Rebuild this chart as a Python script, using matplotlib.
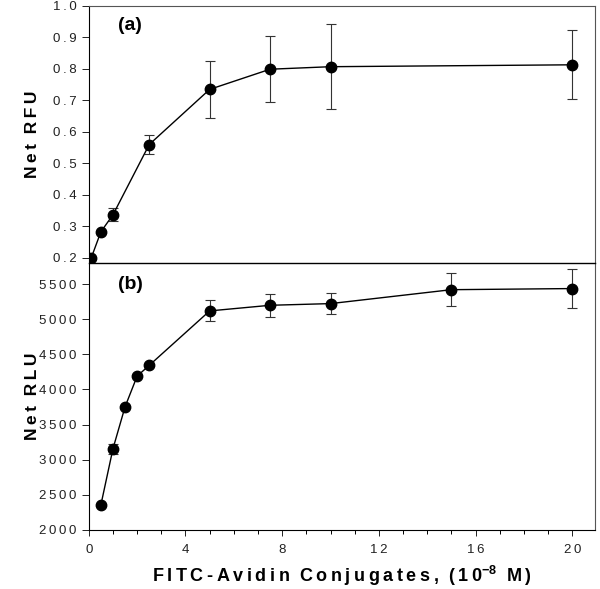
import matplotlib.pyplot as plt
from matplotlib.ticker import FuncFormatter, MultipleLocator

plt.rcParams['font.family'] = ['Liberation Sans', 'DejaVu Sans']
plt.rcParams['mathtext.fontset'] = 'custom'
plt.rcParams['mathtext.bf'] = 'Liberation Sans:bold'
plt.rcParams['mathtext.rm'] = 'Liberation Sans'

# (a) fluorescence
conc_a = [0, 0.1, 0.5, 1.0, 2.5, 5.0, 7.5, 10.0, 20.0]
rfu = [0.195, 0.2, 0.283, 0.337, 0.56, 0.735, 0.799, 0.807, 0.813]
rfu_err = [0, 0, 0, 0.02, 0.029, 0.091, 0.105, 0.134, 0.109]

# (b) luminescence
conc_b = [0.5, 1.0, 1.5, 2.0, 2.5, 5.0, 7.5, 10.0, 15.0, 20.0]
rlu = [2357, 3157, 3753, 4190, 4343, 5118, 5198, 5222, 5420, 5436]
rlu_err = [0, 70, 0, 0, 0, 150, 160, 150, 232, 280]

SP = '\u2009'


def spaced(s):
    return SP.join(s)


fig = plt.figure(figsize=(6, 5.89), dpi=100)
ax2 = fig.add_axes([0.148, 0.1002, 0.844, 0.4533])
ax1 = fig.add_axes([0.148, 0.5535, 0.844, 0.4365])
ax2.patch.set_visible(False)

for ax, x, y, e in [(ax1, conc_a, rfu, rfu_err), (ax2, conc_b, rlu, rlu_err)]:
    ax.errorbar(x, y, yerr=e, fmt='none', ecolor='#333333', elinewidth=0.8,
                capsize=3.5, capthick=0.8, zorder=2)
    ax.plot(x, y, '-', color='black', lw=1.0, zorder=3)
    ax.plot(x, y, 'o', color='black', ms=7.5, zorder=4)
    ax.set_xlim(0, 20.95)
    for s in ax.spines.values():
        s.set_linewidth(0.8)
    for s in ('top', 'right'):
        ax.spines[s].set_color('#555555')
    ax.tick_params(direction='out', labelsize=9.5, width=0.7, length=5,
                   pad=4, colors='#222222')

ax1.set_ylim(0.184, 1.0)
ax1.set_yticks([0.2, 0.3, 0.4, 0.5, 0.6, 0.7, 0.8, 0.9, 1.0])
ax1.yaxis.set_major_formatter(FuncFormatter(lambda v, p: spaced('%.1f' % v)))
ax1.set_xticks([])
ax1.spines['bottom'].set_color('black')
ax1.spines['bottom'].set_linewidth(1.0)

ax2.set_ylim(2000, 5800)
ax2.set_yticks(range(2000, 5501, 500))
ax2.yaxis.set_major_formatter(FuncFormatter(lambda v, p: spaced('%d' % v)))
ax2.set_xticks([0, 4, 8, 12, 16, 20])
ax2.xaxis.set_minor_locator(MultipleLocator(1))
ax2.xaxis.set_major_formatter(FuncFormatter(lambda v, p: spaced('%d' % v)))
ax2.tick_params(axis='x', which='major', length=4, pad=6)
ax2.tick_params(axis='x', which='minor', length=3, width=0.7)
ax2.spines['top'].set_visible(False)

ax1.text(1.2, 0.925, '(a)', fontsize=14, fontweight='bold')
ax2.text(1.2, 5430, '(b)', fontsize=14, fontweight='bold')

ax1.set_ylabel(spaced('Net') + '  ' + spaced('RFU'), fontsize=12.5,
               fontweight='bold')
ax2.set_ylabel(spaced('Net') + '  ' + spaced('RLU'), fontsize=12.5,
               fontweight='bold')
ax1.yaxis.set_label_coords(-0.097, 0.5)
ax2.yaxis.set_label_coords(-0.097, 0.5)

xl = (spaced('FITC-Avidin') + '  ' + spaced('Conjugates,') + '  ' +
      spaced('(10') + r'$^{\mathbf{-8}}$' + '  ' + spaced('M)'))
fig.text(0.57, 0.022, xl, fontsize=13, fontweight='bold',
         ha='center', va='center')

fig.savefig('out.png', dpi=100)
